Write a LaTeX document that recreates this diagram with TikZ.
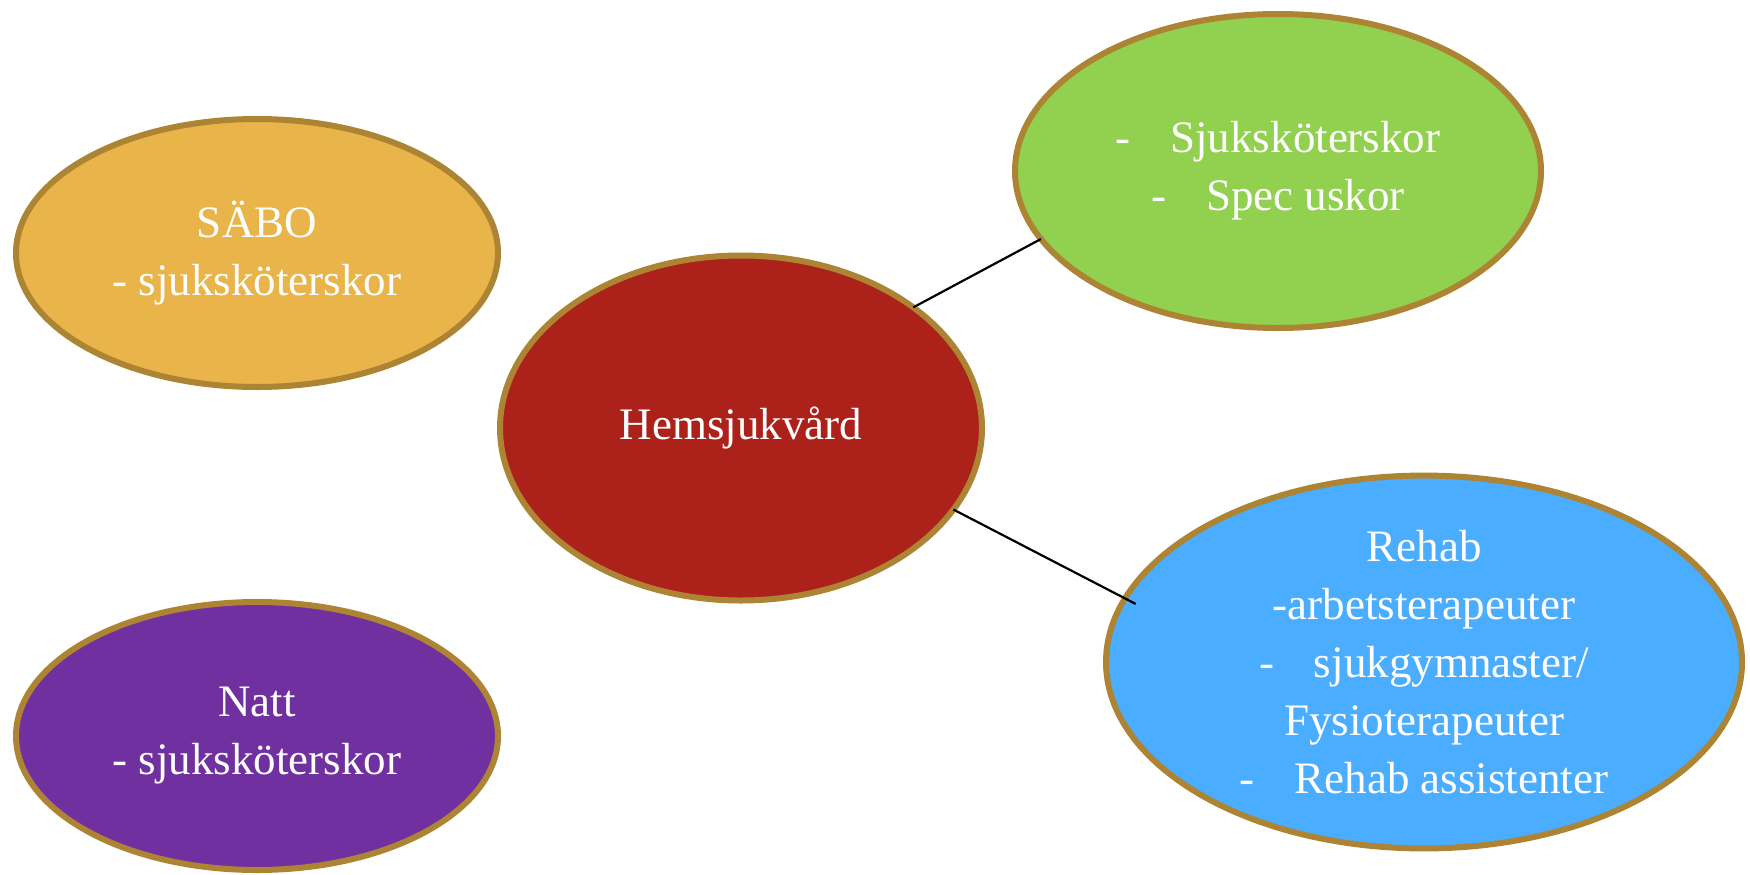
\documentclass[tikz,border=0pt]{standalone}
\usepackage{fontspec}
\setmainfont{Liberation Serif}
\usetikzlibrary{shapes.geometric}
\definecolor{bordergold}{RGB}{173,132,52}
\definecolor{saboyellow}{RGB}{233,180,74}
\definecolor{hemred}{RGB}{173,33,27}
\definecolor{spgreen}{RGB}{146,208,80}
\definecolor{rehabblue}{RGB}{74,173,255}
\definecolor{nattpurple}{RGB}{112,48,160}
\begin{document}
\begin{tikzpicture}[x=1pt,y=-1pt,
  bubble/.style={ellipse, draw=bordergold, line width=6pt, inner sep=0pt, outer sep=0pt,
    text=white, align=center, font=\fontsize{45}{58}\selectfont},
  link/.style={draw=black, line width=2.2pt}]
\useasboundingbox (0,0) rectangle (1750,875);
\node[bubble, fill=saboyellow, minimum width=482pt, minimum height=268pt] (sabo) at (257,253)
  {\raisebox{-3pt}{SÄBO}\\\raisebox{-3pt}{- sjuksköterskor}};
\node[bubble, fill=hemred, minimum width=482pt, minimum height=345pt] (hem) at (741,428)
  {\raisebox{-3pt}{Hemsjukvård}};
\node[bubble, fill=spgreen, minimum width=526pt, minimum height=314pt] (spec) at (1278,171)
  {-\hspace{40pt}Sjuksköterskor\\-\hspace{40pt}Spec uskor};
\node[bubble, fill=rehabblue, minimum width=636pt, minimum height=356pt] (rehab) at (1424,662)
  {Rehab\\-arbetsterapeuter\\-\hspace{40pt}sjukgymnaster/\\Fysioterapeuter\\-\hspace{40pt}Rehab assistenter};
\node[bubble, fill=nattpurple, minimum width=482pt, minimum height=268pt] (natt) at (257,736)
  {\raisebox{-3pt}{Natt}\\\raisebox{-3pt}{- sjuksköterskor}};
\draw[link] (hem.35.7) -- (spec.196.1);
\draw[link, shorten >=-12pt] (hem.-21.5) -- (rehab.168.1);
\end{tikzpicture}
\end{document}
